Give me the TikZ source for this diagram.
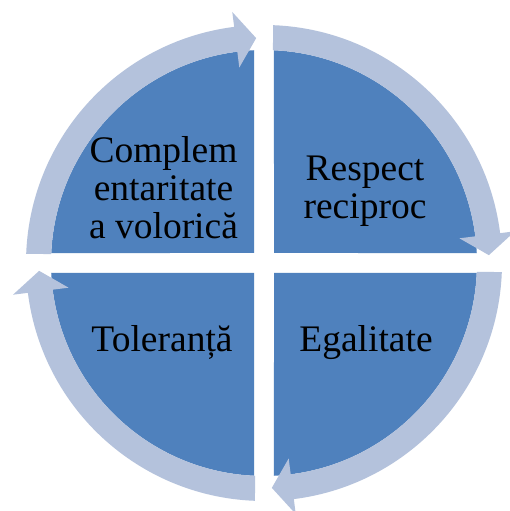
\documentclass[tikz,border=0pt]{standalone}
\usepackage{fontspec}
\setmainfont{Liberation Serif}
\definecolor{quadblue}{RGB}{79,129,189}
\definecolor{ringblue}{RGB}{180,194,220}
\begin{document}
\begin{tikzpicture}[x=1pt,y=1pt,
  quad/.style={fill=quadblue},
  ringseg/.style={fill=ringblue},
  lbl/.style={font=\fontsize{37.5pt}{37.8pt}\selectfont, text=black, inner sep=0pt, align=center}]
\clip (0,0) rectangle (510,511);
\fill[white] (0,0) rectangle (510,511);
\begin{scope}[shift={(264,248)}]
  % quadrants
  \fill[quad] (10,10) -- (87.31:213) arc[start angle=87.31,end angle=2.69,radius=213] -- cycle;
  \fill[quad] (10,-10) -- (-2.69:213) arc[start angle=-2.69,end angle=-87.31,radius=213] -- cycle;
  \fill[quad] (-10,-10) -- (-92.69:213) arc[start angle=-92.69,end angle=-177.31,radius=213] -- cycle;
  \fill[quad] (-10,10) -- (177.31:213) arc[start angle=177.31,end angle=92.69,radius=213] -- cycle;
  % ring arrows
  \foreach \r in {0,-90,-180,-270}{
    \fill[ringseg,rotate=\r] (87.83:238) arc[start angle=87.83,end angle=7.2,radius=238]
      -- (7.2:253) -- (2.0:225) -- (7.2:197) -- (7.2:213)
      arc[start angle=7.2,end angle=87.58,radius=213] -- cycle;
  }
\end{scope}
\node[lbl] (tl) at (163.5,323.5) {Complem\\entaritate\\a volorică};
\node[lbl] (tr) at (365,320) {Respect\\reciproc};
\node[lbl,anchor=base] (bl) at (162,159) {Toleranță};
\node[lbl,anchor=base] (br) at (366,159) {Egalitate};
\end{tikzpicture}
\end{document}
